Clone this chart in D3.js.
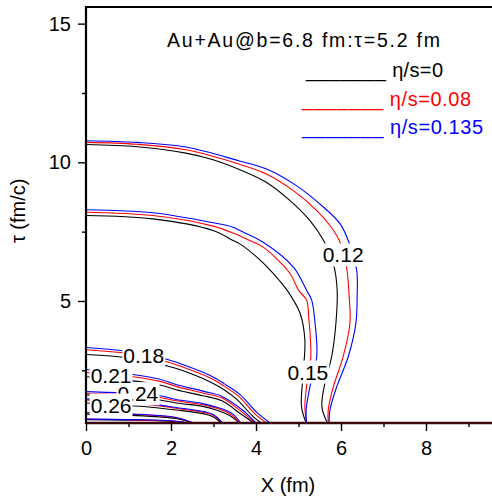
<!DOCTYPE html>
<html>
<head>
<meta charset="utf-8">
<script src="https://cdn.jsdelivr.net/npm/d3@7"></script>
<style>
body { margin: 0; background: #fff; }
svg { display: block; }
</style>
</head>
<body>
<div id="chart"></div>
<script>
// contour levels and series
var seriesNames = ["η/s=0", "η/s=0.08", "η/s=0.135"];
var title = "Au+Au@b=6.8 fm:τ=5.2 fm";
var xTicks = [0, 2, 4, 6, 8];
var xMinor = [1, 3, 5, 7, 9];
var yTicks = [5, 10, 15];
var yMinor = [2.5, 7.5, 12.5];

// points are [x (fm), tau (fm/c)]
// eta/s = 0
var ideal_012 = [[0,10.64],[1.2,10.56],[2.35,10.33],[2.99,10.09],[3.62,9.73],[4.24,9.28],[4.8,8.62],[5.27,7.9],[5.59,7.18],[5.82,6.35],[5.91,5.39],[5.88,4.19],[5.78,2.99],[5.62,2.03],[5.55,1.19],[5.68,0.6]];
var ideal_015 = [[0,8.08],[1.57,7.96],[2.99,7.54],[3.46,7.18],[3.62,7.06],[4.02,6.58],[4.41,5.99],[4.73,5.39],[4.88,5.03],[5.04,4.55],[5.15,3.59],[5.11,2.39],[5.07,1.19],[5.18,0.6]];
var ideal_018 = [[0,3.07],[1.0,2.95],[1.9,2.66],[2.2,2.53],[2.9,2.1],[3.25,1.8],[3.55,1.45],[3.92,0.85],[4.12,0.6]];
var ideal_021 = [[0,2.27],[1.1,2.12],[1.74,1.97],[2.12,1.8],[2.75,1.58],[3.2,1.4],[3.62,0.95],[3.95,0.6]];
var ideal_024 = [[0,1.61],[1.0,1.55],[1.74,1.43],[2.12,1.32],[2.75,1.2],[3.1,1.05],[3.4,0.85],[3.6,0.6]];
var ideal_026 = [[0,1.32],[1.53,1.17],[2.12,1.07],[2.8,0.92],[3.0,0.82],[3.18,0.6]];
var ideal_028 = [[0,0.92],[1.0,0.88],[2.12,0.76],[2.5,0.6]];
var ideal_030 = [[0,0.72],[1.2,0.7],[2.0,0.66],[2.4,0.6]];

// eta/s = 0.08
var visc08_012 = [[0,10.72],[1.2,10.65],[2.35,10.45],[3.61,9.93],[4.24,9.58],[4.88,8.98],[5.43,8.26],[5.74,7.72],[5.96,7.18],[6.13,6.22],[6.19,5.2],[6.21,4.19],[6.05,2.99],[5.82,1.91],[5.7,1.07],[5.7,0.6]];
var visc08_015 = [[0,8.2],[1.57,8.08],[2.99,7.7],[3.46,7.45],[3.85,7.18],[4.17,6.94],[4.8,5.99],[5.0,5.39],[5.19,5.03],[5.24,4.42],[5.29,2.99],[5.19,1.91],[5.15,1.19],[5.19,0.6]];
var visc08_018 = [[0,3.24],[1.0,3.1],[1.9,2.81],[2.2,2.66],[2.9,2.24],[3.25,1.93],[3.6,1.55],[3.98,0.92],[4.25,0.6]];
var visc08_021 = [[0,2.42],[1.1,2.27],[1.74,2.1],[2.12,1.92],[2.75,1.68],[3.2,1.5],[3.65,1.02],[3.98,0.6]];
var visc08_024 = [[0,1.66],[1.0,1.62],[1.74,1.52],[2.12,1.4],[2.75,1.26],[3.1,1.12],[3.42,0.9],[3.62,0.6]];
var visc08_026 = [[0,1.43],[1.53,1.25],[2.12,1.13],[2.8,0.97],[3.0,0.88],[3.2,0.6]];
var visc08_028 = [[0,0.96],[1.0,0.92],[2.12,0.79],[2.52,0.6]];
var visc08_030 = [[0,0.74],[1.2,0.71],[2.0,0.67],[2.42,0.6]];

// eta/s = 0.135
var visc135_012 = [[0,10.78],[1.2,10.72],[2.35,10.55],[3.61,10.05],[4.25,9.76],[4.95,9.16],[5.59,8.38],[5.98,7.78],[6.17,7.18],[6.37,6.1],[6.38,5.2],[6.35,4.19],[6.17,2.99],[5.9,1.91],[5.74,1.07],[5.72,0.6]];
var visc135_015 = [[0,8.29],[1.57,8.18],[2.99,7.82],[3.46,7.66],[3.62,7.54],[4.17,7.12],[4.88,6.22],[5.19,5.39],[5.31,5.03],[5.39,4.19],[5.43,2.99],[5.27,1.91],[5.18,1.07],[5.19,0.6]];
var visc135_018 = [[0,3.32],[1.0,3.18],[1.9,2.9],[2.2,2.75],[2.9,2.33],[3.25,2.02],[3.62,1.63],[4.02,0.98],[4.33,0.6]];
var visc135_021 = [[0,2.53],[1.1,2.35],[1.74,2.18],[2.12,1.99],[2.75,1.75],[3.2,1.56],[3.68,1.07],[4.0,0.6]];
var visc135_024 = [[0,1.73],[1.0,1.67],[1.74,1.58],[2.12,1.45],[2.75,1.3],[3.1,1.16],[3.45,0.93],[3.64,0.6]];
var visc135_026 = [[0,1.47],[1.53,1.28],[2.12,1.16],[2.8,1.0],[3.0,0.9],[3.22,0.6]];
var visc135_028 = [[0,0.97],[1.0,0.93],[2.12,0.8],[2.53,0.6]];
var visc135_030 = [[0,0.74],[1.2,0.72],[2.0,0.68],[2.43,0.6]];

// contour labels (drawn in this order, later boxes cover earlier text)
var labelText = ["0.24", "0.26", "0.21", "0.18", "0.15", "0.12"];
var labelX = [1.22, 0.59, 0.59, 1.36, 5.22, 6.05];
var labelTau = [1.66, 1.25, 2.33, 3.02, 2.44, 6.66];

////////////////////////////////////////////////////////////////////////

function drawChart(id, width, height)
{
    var font = "'Liberation Sans', Arial, sans-serif";
    var colors = ["#000000", "#ff0000", "#0000ff"];

    var svg = d3.select(id).append("svg")
        .attr("width", width)
        .attr("height", height)
        .attr("font-family", font);

    var x = d3.scaleLinear().domain([0, 9.6]).range([86, 494]);
    var y = d3.scaleLinear().domain([0.6, 15.6]).range([423, 7]);

    var contours = [
        [ideal_012, ideal_015, ideal_018, ideal_021, ideal_024, ideal_026, ideal_028, ideal_030],
        [visc08_012, visc08_015, visc08_018, visc08_021, visc08_024, visc08_026, visc08_028, visc08_030],
        [visc135_012, visc135_015, visc135_018, visc135_021, visc135_024, visc135_026, visc135_028, visc135_030]
    ];

    var line = d3.line()
        .x(function(d) { return x(d[0]); })
        .y(function(d) { return y(d[1]); })
        .curve(d3.curveCatmullRom.alpha(0.5));

    for (var s = 0; s < contours.length; s++) {
        svg.append("g")
            .selectAll("path")
            .data(contours[s])
            .enter().append("path")
            .attr("d", line)
            .attr("fill", "none")
            .attr("stroke", colors[s])
            .attr("stroke-width", 1.1);
    }

    // contour labels with white boxes
    for (var i = 0; i < labelText.length; i++) {
        var g = svg.append("g");
        var t = g.append("text")
            .attr("x", x(labelX[i]))
            .attr("y", y(labelTau[i]))
            .attr("dy", "0.36em")
            .attr("text-anchor", "middle")
            .attr("font-size", "21px")
            .attr("fill", "#000")
            .text(labelText[i]);
        var bb = t.node().getBBox();
        g.insert("rect", "text")
            .attr("x", bb.x - 1)
            .attr("y", bb.y)
            .attr("width", bb.width + 2)
            .attr("height", bb.height)
            .attr("fill", "#fff");
    }

    // axes
    var xAxis = svg.append("g")
        .attr("transform", "translate(0," + y(0.6) + ")")
        .call(d3.axisBottom(x).tickValues(xTicks).tickSizeInner(8).tickSizeOuter(0)
            .tickPadding(10).tickFormat(d3.format("d")));
    svg.append("g")
        .attr("transform", "translate(0," + y(0.6) + ")")
        .call(d3.axisBottom(x).tickValues(xMinor).tickSizeInner(4).tickSizeOuter(0).tickFormat(""));

    var yAxis = svg.append("g")
        .attr("transform", "translate(" + x(0) + ",0)")
        .call(d3.axisLeft(y).tickValues(yTicks).tickSizeInner(8).tickSizeOuter(0)
            .tickPadding(7).tickFormat(d3.format("d")));
    svg.append("g")
        .attr("transform", "translate(" + x(0) + ",0)")
        .call(d3.axisLeft(y).tickValues(yMinor).tickSizeInner(4).tickSizeOuter(0).tickFormat(""));

    svg.selectAll(".domain").remove();
    svg.selectAll(".tick line").attr("stroke", "#000").attr("stroke-width", 1.4);
    svg.selectAll(".tick text")
        .attr("font-family", font)
        .attr("font-size", "20px")
        .attr("fill", "#000");

    // frame
    svg.append("line")
        .attr("x1", x(0)).attr("x2", x(9.6))
        .attr("y1", y(15.6)).attr("y2", y(15.6))
        .attr("stroke", "#000").attr("stroke-width", 2.2);
    svg.append("line")
        .attr("x1", x(0)).attr("x2", x(0))
        .attr("y1", y(15.6) - 1).attr("y2", y(0.6) + 1)
        .attr("stroke", "#000").attr("stroke-width", 2.2);
    svg.append("line")
        .attr("x1", x(0)).attr("x2", x(9.6))
        .attr("y1", y(0.6)).attr("y2", y(0.6))
        .attr("stroke", "#3a0808").attr("stroke-width", 2.4);

    // axis titles
    svg.append("text")
        .attr("x", (x(0) + x(9.6)) / 2 - 2)
        .attr("y", 491.5)
        .attr("text-anchor", "middle")
        .attr("font-size", "20px")
        .text("X (fm)");

    svg.append("text")
        .attr("transform", "translate(25," + y(8.25) + ") rotate(-90)")
        .attr("text-anchor", "middle")
        .attr("font-size", "20px")
        .text("τ (fm/c)");

    // annotation
    svg.append("text")
        .attr("x", 167)
        .attr("y", 47.3)
        .attr("font-size", "19.5px")
        .attr("textLength", 273)
        .attr("lengthAdjust", "spacing")
        .text(title);

    // legend
    var legX = [306, 302, 302];
    var legY = [76.5, 105.5, 134];
    var legW = [137, 169, 181];
    for (var k = 0; k < seriesNames.length; k++) {
        svg.append("text")
            .attr("x", legX[k])
            .attr("y", legY[k])
            .attr("font-size", "20px")
            .attr("fill", colors[k])
            .attr("textLength", legW[k])
            .attr("lengthAdjust", "spacing")
            .text("_______ " + seriesNames[k]);
    }
}

drawChart("#chart", 492, 498);
</script>
</body>
</html>
